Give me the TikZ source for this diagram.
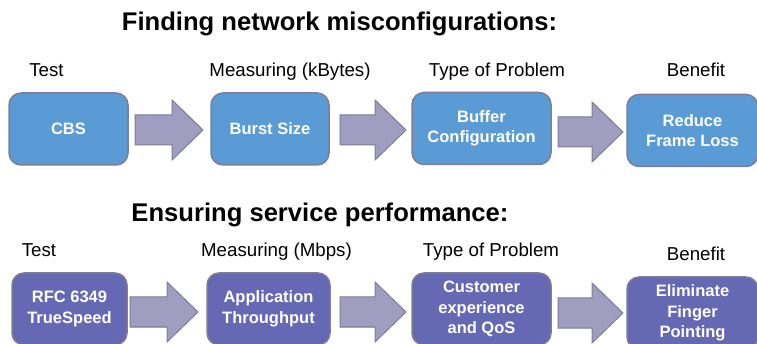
\documentclass[tikz,border=0pt]{standalone}
\usepackage{fontspec}
\setmainfont{Liberation Sans}
\definecolor{topblue}{RGB}{91,155,213}
\definecolor{botblue}{RGB}{101,104,178}
\definecolor{arrowfill}{RGB}{160,157,192}
\definecolor{edgegray}{RGB}{125,125,150}
\begin{document}
\begin{tikzpicture}[x=1pt,y=-1pt,
	box/.style = {draw=edgegray, line width=1.5pt, rounded corners=12pt, text=white, align=center, inner sep=0pt, minimum height=72pt, font=\fontsize{16.5}{20.5}\selectfont\bfseries},
	topbox/.style = {box, fill=topblue},
	botbox/.style = {box, fill=botblue},
	flow/.style = {draw=edgegray, fill=arrowfill, line width=1pt, line join=miter},
	lbl/.style = {anchor=base, font=\fontsize{18.7}{22}\selectfont},
	heading/.style = {anchor=base, font=\fontsize{25.6}{30}\selectfont\bfseries}]
	\clip (0,0) rectangle (757,344);

	% first row
	\node[heading] (finding) at (339.5,31) {Finding network misconfigurations:};
	\node[lbl] (test1) at (46.5,77) {Test};
	\node[lbl] (meas1) at (290,77) {Measuring (kBytes)};
	\node[lbl] (prob1) at (497,77) {Type of Problem};
	\node[lbl] (ben1) at (696,77) {Benefit};
	\node[topbox, minimum width=119pt] (cbs) at (68.5,129) {CBS};
	\node[topbox, minimum width=118pt] (burst) at (270,129) {Burst Size};
	\node[topbox, minimum width=139pt] (buffer) at (481.5,128.5) {Buffer\\Configuration};
	\node[topbox, minimum width=131pt] (reduce) at (692.5,130.5) {Reduce\\Frame Loss};

	% second row
	\node[heading] (ensuring) at (320,222) {Ensuring service performance:};
	\node[lbl] (test2) at (39,257) {Test};
	\node[lbl] (meas2) at (276.5,257) {Measuring (Mbps)};
	\node[lbl] (prob2) at (491,257) {Type of Problem};
	\node[lbl] (ben2) at (696,261) {Benefit};
	\node[botbox, minimum width=115pt] (rfc) at (69.5,309) {RFC 6349\\TrueSpeed};
	\node[botbox, minimum width=123pt] (appl) at (268.5,309) {Application\\Throughput};
	\node[botbox, minimum width=139pt] (cust) at (481.5,309) {Customer\\experience\\and QoS};
	\node[botbox, minimum width=131pt] (elim) at (692.5,313) {Eliminate\\Finger\\Pointing};

	% block arrows: tail, tip, middle
	\foreach \a/\b/\c in {135/203/130, 340/406/130, 558/623/132,
		130/198/312, 340/406/312, 558/623/313}
		\draw[flow] (\a,\c-15) -- (\b-31,\c-15) -- (\b-31,\c-30) -- (\b,\c)
		-- (\b-31,\c+30) -- (\b-31,\c+15) -- (\a,\c+15) -- cycle;
\end{tikzpicture}
\end{document}
